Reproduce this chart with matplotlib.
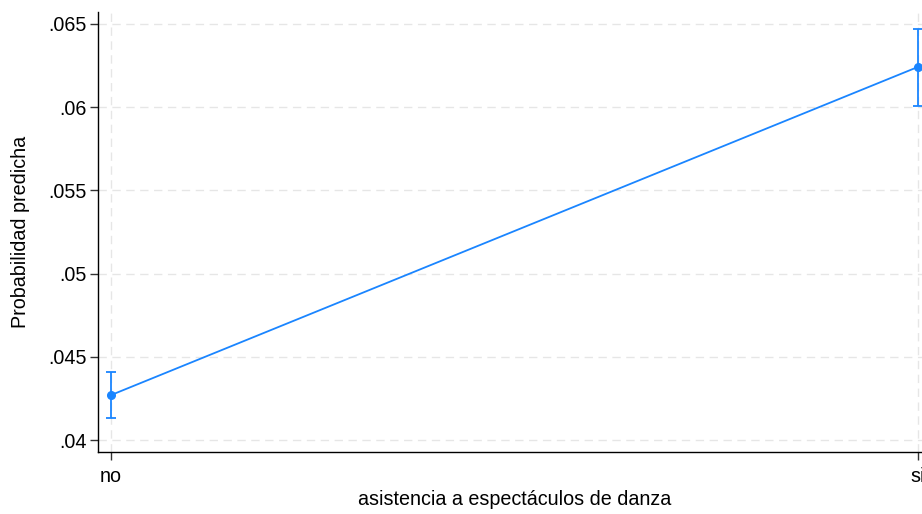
import matplotlib
matplotlib.use("Agg")
import matplotlib.pyplot as plt
import numpy as np

# Predicted probabilities with 95% confidence bounds
categories = ["no", "si"]
predicted = [0.04270, 0.06242]
ci_low = [0.04132, 0.06007]
ci_high = [0.04409, 0.06470]
yticks = [0.04, 0.045, 0.05, 0.055, 0.06, 0.065]
ytick_labels = [".04", ".045", ".05", ".055", ".06", ".065"]

plt.rcParams["font.family"] = ["Liberation Sans", "DejaVu Sans"]

color = "#1a85ff"
W, H = 922, 514
fig = plt.figure(figsize=(W / 100, H / 100), dpi=100)
left, right, top, bottom = 98, 931, 12, 452
ax = fig.add_axes([left / W, 1 - bottom / H, (right - left) / W, (bottom - top) / H])

x = np.arange(len(categories))
pred = np.array(predicted)
lo = np.array(ci_low)
hi = np.array(ci_high)

ax.plot(x, pred, color=color, lw=1.3, zorder=3)
ax.errorbar(x, pred, yerr=[pred - lo, hi - pred], fmt="o", color=color,
            ms=5.5, elinewidth=1.3, capsize=3.5, capthick=1.3, zorder=4)

pad = 13 / 807
ax.set_xlim(-pad, 1 + pad)
ax.set_ylim(0.03928, 0.06572)
ax.set_xticks(x)
ax.set_xticklabels(categories)
ax.set_yticks(yticks)
ax.set_yticklabels(ytick_labels)

ax.grid(True, color="#e6e6e6", linestyle=(0, (6, 4)), lw=1.0, zorder=0)
ax.set_axisbelow(True)

for s in ["top", "right"]:
    ax.spines[s].set_visible(False)
for s in ["left", "bottom"]:
    ax.spines[s].set_linewidth(1.0)
    ax.spines[s].set_color("black")

fs = 14.2
ax.tick_params(axis="both", labelsize=fs, length=6, width=1.0, color="#333333")
ax.tick_params(axis="x", pad=5)
ax.tick_params(axis="y", pad=2)

ax.set_xlabel("asistencia a espectáculos de danza", fontsize=fs, labelpad=3)
ax.set_ylabel("Probabilidad predicha", fontsize=fs, labelpad=13)

fig.savefig("out.png", dpi=100)
